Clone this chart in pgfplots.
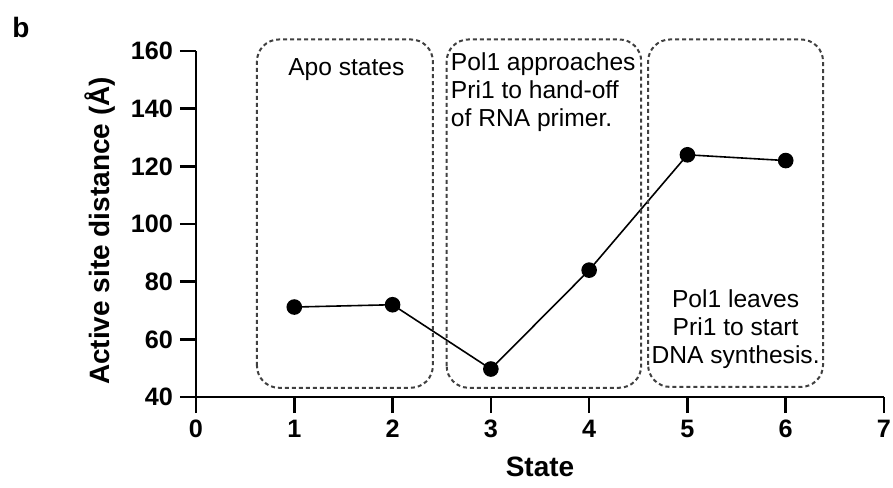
\documentclass[border=0pt]{standalone}
\usepackage{fontspec}
\setmainfont{Liberation Sans}
\usepackage{pgfplots}
\pgfplotsset{compat=1.18}
\begin{document}
\begin{tikzpicture}
\begin{axis}[name=ax, scale only axis, width=344pt, height=173pt,
  xmin=0, xmax=7, ymin=40, ymax=160,
  axis lines=left, axis line style={-, line width=1.3pt},
  xtick={0,1,...,7}, ytick={40,60,...,160},
  tick align=outside, major tick length=8pt,
  tick style={line width=1.3pt, black},
  ticklabel style={font=\fontsize{12.6}{14}\selectfont\bfseries},
  /pgf/number format/assume math mode=true,
  xlabel={State}, ylabel={Active site distance (Å)},
  label style={font=\fontsize{14}{16}\selectfont\bfseries},
  xlabel style={at={(axis description cs:0.5,-0.2023)}, anchor=center},
  ylabel style={at={(axis description cs:-0.1395,0.48)}, anchor=center},
  clip=false,
]
\addplot[black, line width=0.8pt, mark=*, mark size=3.5pt, mark options={fill=black, solid}]
  coordinates {(1,71.2) (2,72) (3,49.7) (4,84) (5,124) (6,122)};
\tikzset{bx/.style={draw=black!75, line width=1pt, dash pattern=on 2pt off 1.5pt, rounded corners=11pt}}
\draw[bx] (axis cs:0.62,43.2) rectangle (axis cs:2.41,164);
\draw[bx] (axis cs:2.55,43.2) rectangle (axis cs:4.53,164);
\draw[bx] (axis cs:4.60,43.5) rectangle (axis cs:6.38,164);
\node[font=\fontsize{12.3}{14}\selectfont, anchor=center, inner sep=0pt] at (axis cs:1.53,153.4) {Apo states};
\node[font=\fontsize{12.3}{14}\selectfont, align=left, anchor=west, inner sep=0pt] at (axis cs:2.59,145.8) {Pol1 approaches\\Pri1 to hand-off\\of RNA primer.};
\node[font=\fontsize{12.3}{14}\selectfont, align=center, anchor=center, inner sep=0pt] at (axis cs:5.49,63.6) {Pol1 leaves\\Pri1 to start\\DNA synthesis.};
\end{axis}
\node[font=\fontsize{14}{16}\selectfont\bfseries, anchor=north west, inner sep=0pt] at ([shift={(-92pt,190pt)}]ax.south west) {b};
\pgfresetboundingbox
\path[use as bounding box] ([shift={(-98pt,-45pt)}]ax.south west) rectangle ([shift={(348.5pt,198.5pt)}]ax.south west);
\end{tikzpicture}
\end{document}
